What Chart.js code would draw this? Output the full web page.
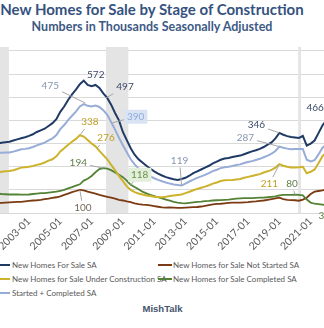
<!DOCTYPE html>
<html>
<head>
<meta charset="utf-8">
<script src="https://cdn.jsdelivr.net/npm/chart.js@4.4.0/dist/chart.umd.min.js"></script>
<style>
  html, body { margin: 0; padding: 0; background: #fff; }
  #wrap { position: relative; width: 324px; height: 328px; overflow: hidden; font-family: Lato, sans-serif; }
  #title { position: absolute; left: 0; width: 304px; top: 0; text-align: center; font-size: 15px; line-height: 18px; font-weight: bold; color: #35527f; white-space: nowrap; }
  #subtitle { position: absolute; left: 0; width: 304px; top: 19px; text-align: center; font-size: 12.5px; line-height: 15px; font-weight: bold; color: #3d5a85; white-space: nowrap; }
  #plot { position: absolute; left: -20px; top: 40px; }
  .leg { position: absolute; font-size: 8px; line-height: 10px; color: #595959; white-space: nowrap; }
  .sw { position: absolute; height: 2px; width: 14px; }
  #footer { position: absolute; left: 0; width: 325px; top: 303px; text-align: center; font-family: "Liberation Sans", Arial, sans-serif; font-weight: bold; font-size: 9.5px; color: #44546a; }
</style>
</head>
<body>
<div id="wrap">
  <div id="title">New Homes for Sale by Stage of Construction</div>
  <div id="subtitle">Numbers in Thousands Seasonally Adjusted</div>
  <canvas id="plot" width="364" height="212"></canvas>
  <div id="legend"></div>
  <div id="footer">MishTalk</div>
</div>
<script>
// quarterly readings, thousands of homes
const startYear = 2001;
const stepYears = 0.25;

const totalForSale = [
  300, 303, 306, 308, 313, 318, 323, 327,
  333, 340, 350, 357, 364, 376, 388, 405,
  437, 460, 488, 512, 533, 556, 572, 553,
  548, 553, 540, 517, 497, 468, 432, 400,
  350, 315, 280, 252, 232, 218, 204, 192,
  180, 170, 162, 155, 150, 146, 143, 147,
  152, 161, 172, 180, 188, 196, 204, 214,
  222, 230, 235, 238, 242, 245, 248, 254,
  260, 266, 271, 277, 285, 295, 305, 322,
  346, 338, 332, 328, 326, 324, 333, 291,
  300, 313, 345, 378, 400, 440, 466
];
const notStarted = [
  43, 44, 45, 46, 47, 48, 48, 50,
  52, 54, 55, 57, 60, 62, 65, 68,
  72, 78, 84, 90, 95, 100, 98, 92,
  88, 84, 78, 74, 70, 66, 62, 57,
  54, 50, 47, 42, 38, 36, 35, 33,
  30, 27, 24, 23, 24, 23, 22, 22,
  23, 24, 25, 26, 28, 31, 34, 37,
  39, 40, 42, 44, 45, 45, 45, 46,
  47, 49, 50, 52, 54, 57, 60, 63,
  66, 60, 57, 56, 55, 53, 58, 66,
  82, 92, 95, 98, 102
];
const underConstruction = [
  176, 178, 180, 181, 185, 190, 196, 198,
  200, 203, 208, 212, 218, 226, 232, 245,
  266, 280, 295, 308, 320, 336, 330, 315,
  300, 288, 268, 250, 232, 208, 185, 160,
  138, 115, 100, 90, 84, 80, 76, 73,
  70, 69, 68, 70, 73, 76, 78, 80,
  86, 92, 98, 104, 109, 114, 120, 127,
  132, 138, 141, 142, 143, 145, 147, 152,
  156, 160, 164, 168, 175, 180, 186, 196,
  211, 204, 200, 197, 197, 198, 200, 172,
  178, 188, 215, 245, 262
];
const completed = [
  84, 82, 81, 80, 80, 80, 79, 79,
  80, 82, 84, 86, 86, 88, 90, 92,
  96, 100, 106, 112, 118, 124, 140, 148,
  160, 176, 190, 194, 192, 185, 175, 165,
  155, 140, 122, 112, 103, 92, 85, 78,
  73, 68, 63, 58, 53, 48, 45, 43,
  42, 44, 46, 48, 49, 51, 52, 54,
  55, 56, 57, 58, 60, 62, 63, 64,
  64, 64, 65, 66, 66, 68, 70, 72,
  76, 78, 78, 78, 79, 78, 76, 58,
  45, 40, 38, 36, 34
];
const startedCompleted = [
  260, 260, 261, 261, 265, 270, 275, 277,
  280, 285, 292, 298, 304, 314, 322, 337,
  362, 380, 401, 420, 438, 460, 470, 463,
  460, 464, 458, 444, 424, 393, 360, 325,
  293, 262, 232, 210, 192, 180, 168, 158,
  150, 143, 137, 132, 127, 123, 121, 119,
  127, 136, 144, 152, 158, 165, 172, 181,
  187, 194, 198, 200, 203, 207, 210, 216,
  220, 224, 229, 234, 241, 248, 256, 268,
  287, 282, 278, 275, 276, 276, 276, 230,
  223, 228, 253, 281, 296
];

const seriesNames = [
  'New Homes For Sale SA',
  'New Homes for Sale Not Started SA',
  'New Homes for Sale Under Construction SA',
  'New Homes for Sale Completed SA',
  'Started + Completed SA'
];
const seriesColors = ['#203a66', '#7b3b12', '#cdb22c', '#548235', '#97acd6'];

const tickYears = [2001, 2003, 2005, 2007, 2009, 2011, 2013, 2015, 2017, 2019, 2021];
const tickLabels = ['2001-01', '2003-01', '2005-01', '2007-01', '2009-01', '2011-01',
  '2013-01', '2015-01', '2017-01', '2019-01', '2021-01'];
const gridValues = [0, 100, 200, 300, 400, 500, 600, 700];

const recessionStart = [2001.1, 2007.92, 2020.2];
const recessionEnd = [2001.72, 2009.35, 2020.38];

// callout labels: series index, where they point, and how far the text sits from it
const callouts = [
  { text: '572', series: 0, year: 2006.5, value: 572, dx: 12, dy: -6 },
  { text: '497', series: 0, year: 2007.92, value: 497, dx: 19, dy: -11 },
  { text: '475', series: 4, year: 2006.6, value: 475, dx: -35, dy: -17 },
  { text: '390', series: 4, year: 2008.35, value: 390, dx: 23, dy: -6, box: '#dae3f3', color: '#8faadc' },
  { text: '338', series: 2, year: 2006.25, value: 336, dx: 10, dy: -13 },
  { text: '276', series: 2, year: 2007.35, value: 280, dx: 9, dy: -10 },
  { text: '194', series: 3, year: 2007.75, value: 194, dx: -25, dy: -5 },
  { text: '118', series: 3, year: 2009.5, value: 122, dx: 9, dy: -10, box: '#e2efda', color: '#6d9050' },
  { text: '100', series: 1, year: 2006.25, value: 100, dx: 3, dy: 18 },
  { text: '119', series: 4, year: 2012.75, value: 119, dx: -2, dy: -25 },
  { text: '346', series: 0, year: 2019.0, value: 346, dx: -23, dy: -8 },
  { text: '287', series: 4, year: 2019.0, value: 287, dx: -34, dy: -9 },
  { text: '211', series: 2, year: 2019.0, value: 211, dx: -10, dy: 20 },
  { text: '80', series: 3, year: 2020.0, value: 79, dx: -3, dy: -11 },
  { text: '466', series: 0, year: 2022.5, value: 466, dx: -19, dy: 3 },
  { text: '35', series: 3, year: 2022.0, value: 34, dx: -2, dy: 11 }
];
const labelColors = ['#3a4a68', '#7a6a5a', '#bf9f22', '#5f7f48', '#8497b0'];

const toPoints = arr => arr.map((v, i) => ({ x: startYear + i * stepYears, y: v }));
const seriesData = [totalForSale, notStarted, underConstruction, completed, startedCompleted];

const legend = document.getElementById('legend');
seriesNames.forEach((name, i) => {
  const row = Math.floor(i / 2), col = i % 2;
  const cy = 265 + row * 14;
  const sw = document.createElement('div');
  sw.className = 'sw';
  sw.style.background = seriesColors[i];
  sw.style.left = (col ? 158 : -4) + 'px';
  sw.style.top = (cy - 1) + 'px';
  legend.appendChild(sw);
  const t = document.createElement('div');
  t.className = 'leg';
  t.textContent = name;
  t.style.left = (col ? 173 : 12) + 'px';
  t.style.top = (cy - 5) + 'px';
  legend.appendChild(t);
});

const bands = {
  id: 'bands',
  beforeDatasetsDraw(chart) {
    const { ctx, chartArea: a, scales: { x } } = chart;
    ctx.save();
    ctx.fillStyle = '#e4e4e4';
    recessionStart.forEach((s, i) => {
      const x0 = x.getPixelForValue(s), x1 = x.getPixelForValue(recessionEnd[i]);
      ctx.fillRect(x0, a.top, x1 - x0, a.bottom - a.top);
    });
    ctx.restore();
  }
};

const calloutPlugin = {
  id: 'callouts',
  afterDatasetsDraw(chart) {
    const { ctx, scales: { x, y } } = chart;
    ctx.save();
    ctx.font = '10px Lato';
    ctx.textAlign = 'center';
    ctx.textBaseline = 'middle';
    callouts.forEach(c => {
      const px = x.getPixelForValue(c.year), py = y.getPixelForValue(c.value);
      const cx = px + c.dx, cy = py + c.dy;
      const hw = ctx.measureText(c.text).width / 2 + 3, hh = 7;
      if (c.box) {
        ctx.fillStyle = c.box;
        ctx.fillRect(cx - hw, cy - hh, hw * 2, hh * 2);
      }
      const vx = px - cx, vy = py - cy;
      const s = Math.max(Math.abs(vx) / hw, Math.abs(vy) / hh);
      if (s > 1.3) {
        ctx.strokeStyle = '#a6a6a6';
        ctx.lineWidth = 1;
        ctx.beginPath();
        ctx.moveTo(cx + vx / s, cy + vy / s);
        ctx.lineTo(px, py);
        ctx.stroke();
      }
      ctx.fillStyle = c.color || labelColors[c.series];
      ctx.fillText(c.text, cx, cy);
    });
    ctx.restore();
  }
};

// drawn back to front: first dataset ends up on top
const drawOrder = [4, 0, 2, 3, 1];
const widths = [2, 1.8, 2, 1.8, 2];

new Chart(document.getElementById('plot'), {
  type: 'line',
  data: {
    datasets: seriesNames.map((name, i) => ({
      label: name,
      data: toPoints(seriesData[i]),
      borderColor: seriesColors[i],
      borderWidth: widths[i],
      pointRadius: 0,
      tension: 0,
      order: drawOrder.indexOf(i)
    }))
  },
  options: {
    responsive: false,
    animation: false,
    layout: { padding: { top: 7, left: 0, right: 0, bottom: 0 } },
    plugins: { legend: { display: false }, tooltip: { enabled: false } },
    scales: {
      x: {
        type: 'linear',
        min: 1999.87,
        max: 2023.13,
        grid: { display: false, drawTicks: false },
        border: { display: false },
        ticks: {
          autoSkip: false,
          minRotation: 45,
          maxRotation: 45,
          padding: 2,
          color: '#595959',
          font: { family: 'Lato', size: 10.5 },
          callback: (v, i) => tickLabels[i]
        },
        afterBuildTicks: s => { s.ticks = tickYears.map(v => ({ value: v })); },
        afterFit: s => { s.height = 39; s.paddingLeft = 0; s.paddingRight = 0; }
      },
      y: {
        min: 0,
        max: 717,
        grid: { color: '#d9d9d9', drawTicks: false },
        border: { display: false },
        ticks: { display: false },
        afterBuildTicks: s => { s.ticks = gridValues.map(v => ({ value: v })); },
        afterFit: s => { s.width = 0; s.paddingTop = 0; s.paddingBottom = 0; }
      }
    }
  },
  plugins: [bands, calloutPlugin]
});
</script>
</body>
</html>
